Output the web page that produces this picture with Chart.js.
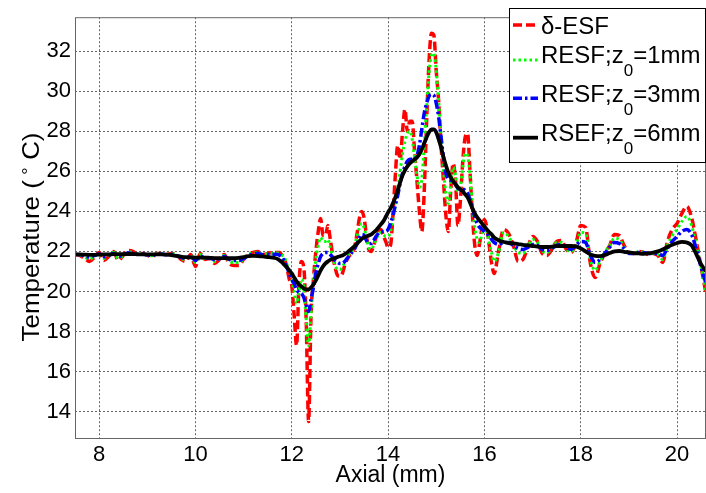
<!DOCTYPE html>
<html><head><meta charset="utf-8">
<script src="https://cdn.jsdelivr.net/npm/chart.js@4.4.0/dist/chart.umd.min.js"></script>
<style>html,body{margin:0;padding:0;background:#fff;overflow:hidden}#c{display:block}</style>
</head><body>
<canvas id="c" width="706" height="493"></canvas>
<script>
// Axial positions (mm)
const axial = [
7.5,7.6,7.7,7.8,7.9,8.0,8.1,8.2,8.3,8.4,
8.5,8.6,8.7,8.8,8.9,9.0,9.1,9.2,9.3,9.4,
9.5,9.6,9.7,9.8,9.9,10.0,10.1,10.2,10.3,10.4,
10.5,10.6,10.7,10.8,10.9,11.0,11.1,11.2,11.3,11.4,
11.5,11.6,
11.65,11.7,11.75,11.8,11.85,11.9,11.95,12.0,12.05,12.1,
12.15,12.2,12.25,12.3,12.35,12.4,12.45,12.5,12.55,12.6,
12.65,12.7,12.75,12.8,12.85,12.9,12.95,13.0,13.05,13.1,
13.15,13.2,13.25,13.3,13.35,13.4,13.45,13.5,13.55,13.6,
13.65,13.7,13.75,13.8,13.85,13.9,13.95,14.0,14.05,14.1,
14.15,14.2,14.25,14.3,14.35,14.4,14.45,14.5,14.55,14.6,
14.65,14.7,14.75,14.8,14.85,14.9,14.95,15.0,15.05,15.1,
15.15,15.2,15.25,15.3,15.35,15.4,15.45,15.5,15.55,15.6,
15.65,15.7,15.75,15.8,15.85,15.9,15.95,16.0,16.05,16.1,
16.15,16.2,
16.3,16.4,16.5,16.6,16.7,16.8,16.9,17.0,17.1,17.2,
17.3,17.4,17.5,17.6,17.7,17.8,17.9,18.0,18.1,18.2,
18.3,18.4,18.5,18.6,18.7,18.8,18.9,19.0,19.1,19.2,
19.3,19.4,19.5,19.6,19.7,19.8,19.9,20.0,20.1,20.2,
20.3,20.4,20.5,20.6
];
// delta-ESF (red dashed)
const deltaESF = [
21.85,21.8,21.65,21.5,21.7,21.95,21.55,21.75,22.0,21.55,
21.8,22.05,22.0,21.85,21.9,21.8,21.75,21.9,21.9,21.85,
21.9,21.85,21.6,21.5,21.85,21.25,21.9,21.6,21.65,21.4,
21.6,21.85,21.4,21.3,21.3,21.6,21.85,21.95,22.0,21.85,
21.9,21.95,
21.95,21.95,21.95,21.8,21.6,21.2,20.6,20.3,18.8,17.3,
20.4,21.5,21.2,18.5,13.5,18.8,20.6,22.0,23.0,23.65,
22.8,22.8,23.3,22.6,21.8,21.2,20.8,20.75,20.9,21.3,
21.6,21.8,21.9,22.2,22.8,23.6,24.0,23.7,22.8,22.1,
22.0,22.3,22.7,23.0,23.1,22.8,22.5,22.2,22.3,23.8,
25.8,27.3,26.6,28.0,29.1,28.0,28.5,28.5,27.0,25.5,
24.0,23.0,25.0,28.5,31.5,32.9,32.8,31.0,29.5,27.3,
25.5,23.8,23.0,25.0,26.4,25.5,23.3,24.5,26.5,27.7,
27.9,26.0,23.8,22.3,21.8,22.4,23.2,23.6,23.2,22.3,
21.4,20.9,
22.1,23.1,22.9,22.3,21.5,21.6,22.2,22.75,22.5,21.9,
21.8,22.1,22.5,22.55,22.1,21.95,22.4,23.3,23.2,21.4,
20.7,21.4,21.9,22.3,22.85,22.8,22.3,21.95,21.9,22.0,
21.95,21.85,21.9,21.8,21.45,22.5,23.1,23.4,23.9,24.25,
23.7,22.5,21.2,19.9
];
// RESF z0 = 1 mm (green dotted)
const resf1 = [
21.85,21.82,21.72,21.62,21.75,21.9,21.65,21.78,21.95,21.65,
21.8,21.98,21.95,21.85,21.88,21.82,21.78,21.88,21.88,21.85,
21.88,21.83,21.65,21.6,21.8,21.45,21.85,21.65,21.65,21.5,
21.62,21.8,21.52,21.45,21.45,21.62,21.85,21.92,21.95,21.85,
21.88,21.9,
21.92,21.92,21.9,21.8,21.7,21.35,20.95,20.6,20.0,19.4,
20.0,20.6,20.2,18.6,17.3,18.9,20.4,21.6,22.3,22.7,
22.5,22.5,22.6,22.2,21.7,21.3,21.1,21.1,21.2,21.45,
21.7,21.9,22.05,22.3,22.7,23.15,23.4,23.2,22.7,22.2,
22.1,22.3,22.6,22.85,22.95,22.85,22.75,22.75,23.0,23.6,
24.3,25.1,26.0,26.9,27.5,27.9,28.0,27.6,26.7,25.8,
25.2,25.6,27.3,29.2,30.9,31.8,31.9,31.0,29.5,27.8,
26.1,24.9,24.4,25.3,26.2,25.8,25.0,25.2,26.2,26.9,
26.8,25.8,24.4,23.2,22.6,22.45,22.9,23.2,23.0,22.4,
21.9,21.5,
22.0,22.95,22.75,22.3,21.95,21.9,22.25,22.6,22.45,22.0,
21.95,22.15,22.45,22.45,22.1,22.0,22.3,22.95,22.9,21.6,
21.05,21.5,21.95,22.3,22.65,22.6,22.2,21.9,21.9,22.0,
21.95,21.9,21.9,21.85,21.6,22.3,22.8,23.1,23.5,23.75,
23.3,22.3,21.2,20.0
];
// RESF z0 = 3 mm (blue dash-dot)
const resf3 = [
21.85,21.84,21.78,21.72,21.79,21.87,21.74,21.8,21.9,21.75,
21.82,21.92,21.9,21.85,21.86,21.83,21.8,21.86,21.86,21.84,
21.85,21.8,21.7,21.65,21.75,21.55,21.78,21.67,21.67,21.58,
21.64,21.75,21.6,21.55,21.55,21.65,21.8,21.88,21.9,21.84,
21.85,21.85,
21.86,21.85,21.8,21.7,21.5,21.2,20.9,20.6,20.4,20.1,
19.95,19.9,19.7,19.3,19.0,19.6,20.2,20.9,21.4,21.75,
21.9,21.95,21.95,21.85,21.7,21.55,21.45,21.4,21.4,21.5,
21.65,21.8,21.95,22.1,22.35,22.65,22.85,22.8,22.55,22.4,
22.4,22.55,22.75,22.9,23.0,23.0,23.0,23.1,23.4,23.8,
24.3,24.8,25.4,25.9,26.25,26.5,26.6,26.6,26.6,26.8,
27.3,28.1,28.9,29.4,29.75,29.85,29.8,29.4,28.7,27.7,
26.7,25.9,25.6,25.55,25.5,25.35,25.15,25.1,25.1,25.05,
24.9,24.6,24.2,23.7,23.4,23.2,23.1,23.0,22.9,22.75,
22.6,22.45,
22.35,22.45,22.45,22.3,22.15,22.1,22.2,22.35,22.3,22.1,
22.05,22.15,22.3,22.35,22.2,22.1,22.3,22.5,22.45,21.8,
21.45,21.6,21.9,22.2,22.45,22.4,22.15,21.9,21.9,21.95,
21.95,21.9,21.9,21.9,21.8,22.15,22.5,22.75,23.0,23.1,
22.85,22.1,21.2,20.4
];
// RSEF z0 = 6 mm (black solid)
const resf6 = [
21.85,21.85,21.84,21.83,21.83,21.84,21.85,21.85,21.86,21.86,
21.86,21.87,21.87,21.86,21.85,21.85,21.85,21.85,21.85,21.84,
21.82,21.78,21.74,21.71,21.7,21.69,21.69,21.69,21.68,21.67,
21.67,21.67,21.66,21.66,21.68,21.72,21.76,21.78,21.77,21.75,
21.72,21.69,
21.67,21.63,21.55,21.45,21.32,21.2,21.05,20.9,20.7,20.5,
20.35,20.25,20.15,20.1,20.1,20.2,20.35,20.55,20.8,21.05,
21.25,21.4,21.5,21.58,21.63,21.67,21.72,21.76,21.8,21.87,
21.95,22.05,22.15,22.25,22.38,22.5,22.62,22.7,22.75,22.8,
22.85,22.95,23.05,23.2,23.35,23.5,23.72,23.95,24.15,24.4,
24.7,25.05,25.45,25.8,26.05,26.25,26.4,26.5,26.6,26.7,
26.85,27.1,27.4,27.7,27.95,28.1,28.1,27.95,27.6,27.2,
26.7,26.3,25.95,25.7,25.5,25.35,25.2,25.1,25.0,24.85,
24.7,24.45,24.15,23.9,23.7,23.55,23.4,23.25,23.1,22.95,
22.85,22.7,
22.55,22.47,22.42,22.4,22.37,22.33,22.3,22.27,22.24,22.22,
22.22,22.24,22.26,22.27,22.27,22.27,22.25,22.15,22.0,21.85,
21.78,21.77,21.82,21.92,22.0,22.02,21.98,21.95,21.92,21.9,
21.88,21.9,21.94,22.0,22.1,22.22,22.33,22.42,22.48,22.45,
22.3,21.85,21.35,21.0
];
const seriesNames = ['\u03b4-ESF', 'RESF;z0=1mm', 'RESF;z0=3mm', 'RSEF;z0=6mm'];
const xTicks = [8, 10, 12, 14, 16, 18, 20];
const yTicks = [14, 16, 18, 20, 22, 24, 26, 28, 30, 32];
const xTitle = 'Axial (mm)';
const yTitleParts = ['Temperature (', '\u00b0', 'C)'];

const FONT = '"Liberation Sans", Arial, Helvetica, sans-serif';
Chart.defaults.font.family = FONT;
Chart.defaults.color = '#000';

const styles = [
  {color:'#ff0000', width:3.5, dash:[9,4], order:4},
  {color:'#00ff00', width:3, dash:[2.5,3], order:3},
  {color:'#0000ff', width:3.5, dash:[9,3,2.5,3], order:2},
  {color:'#000000', width:3.8, dash:[], order:1}
];
const seriesValues = [deltaESF, resf1, resf3, resf6];

const frameLegend = {
  id: 'frameLegend',
  afterDatasetsDraw(chart) {
    const ctx = chart.ctx, a = chart.chartArea;
    ctx.save();
    ctx.setLineDash([]);
    ctx.strokeStyle = '#666';
    ctx.lineWidth = 1;
    ctx.strokeRect(a.left + 0.5, a.top + 0.5, a.right - a.left - 1, a.bottom - a.top - 1);
    const bx = 509.5, by = 8.5, bw = 196, bh = 154;
    ctx.fillStyle = '#fff';
    ctx.fillRect(bx, by, bw, bh);
    ctx.strokeStyle = '#000';
    ctx.strokeRect(bx, by, bw, bh);
    const lineY = [25, 60, 98.3, 137.7];
    const textY = [27.5, 56, 95, 134.5];
    chart.data.datasets.forEach((ds, i) => {
      const y = lineY[i];
      ctx.setLineDash(ds.borderDash || []);
      ctx.strokeStyle = ds.borderColor;
      ctx.lineWidth = ds.borderWidth;
      ctx.beginPath(); ctx.moveTo(513, y); ctx.lineTo(538, y); ctx.stroke();
      ctx.setLineDash([]);
      ctx.fillStyle = '#000';
      ctx.textBaseline = 'middle';
      ctx.textAlign = 'left';
      const ty = textY[i];
      let x = 541;
      const parts = ds.label.split('z0');
      ctx.font = '24px ' + FONT;
      if (parts.length === 1) {
        ctx.fillText(ds.label, x, ty);
      } else {
        const p0 = parts[0] + 'z';
        ctx.fillText(p0, x, ty); x += ctx.measureText(p0).width;
        ctx.font = '17px ' + FONT;
        ctx.fillText('0', x, ty + 15); x += ctx.measureText('0').width;
        ctx.font = '24px ' + FONT;
        ctx.fillText(parts[1], x, ty);
      }
    });
    // y axis title with raised degree sign
    ctx.save();
    ctx.translate(30, 237);
    ctx.rotate(-Math.PI / 2);
    ctx.scale(1.08, 1);
    ctx.fillStyle = '#000';
    ctx.textAlign = 'left';
    ctx.textBaseline = 'alphabetic';
    ctx.font = '24px ' + FONT;
    const w1 = ctx.measureText(yTitleParts[0]).width;
    const w3 = ctx.measureText(yTitleParts[2]).width;
    ctx.font = '17px ' + FONT;
    const w2 = ctx.measureText(yTitleParts[1]).width;
    const gap1 = 5, gap2 = 7;
    const total = w1 + gap1 + w2 + gap2 + w3;
    let x = -total / 2;
    const base = 8.5;
    ctx.font = '24px ' + FONT;
    ctx.fillText(yTitleParts[0], x, base); x += w1 + gap1;
    ctx.font = '17px ' + FONT;
    ctx.fillText(yTitleParts[1], x, base - 5); x += w2 + gap2;
    ctx.font = '24px ' + FONT;
    ctx.fillText(yTitleParts[2], x, base);
    ctx.restore();
    ctx.restore();
  }
};

new Chart(document.getElementById('c'), {
  type: 'line',
  data: {
    datasets: seriesValues.map((vals, i) => ({
      label: seriesNames[i],
      data: axial.map((x, j) => ({x: x, y: vals[j]})),
      borderColor: styles[i].color,
      borderWidth: styles[i].width,
      borderDash: styles[i].dash,
      order: styles[i].order,
      pointRadius: 0,
      fill: false,
      cubicInterpolationMode: 'monotone'
    }))
  },
  options: {
    responsive: false,
    animation: false,
    devicePixelRatio: 1,
    layout: {padding: {top: 8, left: 0, right: 0, bottom: 0}},
    plugins: {legend: {display: false}, tooltip: {enabled: false}},
    scales: {
      x: {
        type: 'linear', min: 7.5, max: 20.6,
        afterBuildTicks: s => { s.ticks = xTicks.map(v => ({value: v})); },
        afterFit: s => { s.height = 54; },
        grid: {color: 'rgba(0,0,0,0.6)', lineWidth: 1, drawTicks: false},
        border: {display: false, dash: [2, 2]},
        ticks: {color: '#000', font: {size: 22}, padding: 3, maxRotation: 0, autoSkip: false},
        title: {display: true, text: xTitle, color: '#000', font: {size: 23}, padding: {top: 0, bottom: 4}}
      },
      y: {
        type: 'linear', min: 12.63, max: 33.7,
        afterBuildTicks: s => { s.ticks = yTicks.map(v => ({value: v})); },
        afterFit: s => { s.width = 75; },
        grid: {color: 'rgba(0,0,0,0.6)', lineWidth: 1, drawTicks: false},
        border: {display: false, dash: [2, 2]},
        ticks: {color: '#000', font: {size: 22}, padding: 4, autoSkip: false},
        title: {display: false}
      }
    }
  },
  plugins: [frameLegend]
});
</script>
</body></html>
